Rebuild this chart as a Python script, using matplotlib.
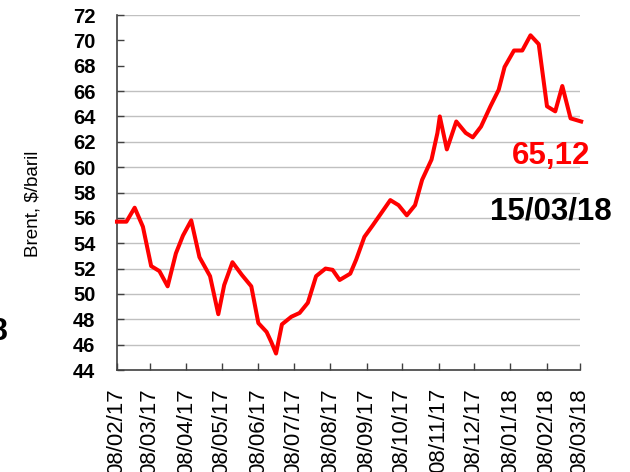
import numpy as np
import pandas as pd
import matplotlib
matplotlib.use('Agg')
import matplotlib.pyplot as plt
import matplotlib.dates as mdates

plt.rcParams['font.family'] = ['Liberation Sans', 'DejaVu Sans']

# Brent, $/baril
dates = ['2017-02-08', '2017-02-16', '2017-02-23', '2017-03-02', '2017-03-09',
         '2017-03-16', '2017-03-23', '2017-03-30', '2017-04-05', '2017-04-12',
         '2017-04-19', '2017-04-28', '2017-05-05', '2017-05-10', '2017-05-17',
         '2017-05-25', '2017-06-02', '2017-06-08', '2017-06-15', '2017-06-19',
         '2017-06-23', '2017-06-28', '2017-07-06', '2017-07-13', '2017-07-20',
         '2017-07-27', '2017-08-04', '2017-08-10', '2017-08-16', '2017-08-25',
         '2017-08-30', '2017-09-06', '2017-09-13', '2017-09-22', '2017-09-28',
         '2017-10-05', '2017-10-12', '2017-10-19', '2017-10-25', '2017-11-02',
         '2017-11-07', '2017-11-09', '2017-11-15', '2017-11-23', '2017-12-01',
         '2017-12-07', '2017-12-14', '2017-12-22', '2017-12-29', '2018-01-03',
         '2018-01-11', '2018-01-18', '2018-01-25', '2018-02-01', '2018-02-08',
         '2018-02-15', '2018-02-21', '2018-02-28', '2018-03-09']
brent = [55.7, 55.7, 56.8, 55.3, 52.2, 51.8, 50.6, 53.2, 54.6, 55.8,
         52.9, 51.4, 48.4, 50.7, 52.5, 51.5, 50.6, 47.7, 47.0, 46.2,
         45.3, 47.6, 48.2, 48.5, 49.3, 51.4, 52.0, 51.9, 51.1, 51.6,
         52.7, 54.5, 55.4, 56.6, 57.4, 57.0, 56.2, 57.0, 59.0, 60.6,
         62.7, 64.0, 61.4, 63.6, 62.7, 62.35, 63.2, 64.8, 66.1, 67.9,
         69.2, 69.2, 70.4, 69.7, 64.8, 64.4, 66.4, 63.85, 63.6]
tick_dates = pd.date_range('2017-02-01', periods=14, freq='MS') + pd.Timedelta(days=7)
y_ticks = np.arange(44, 73, 2)
grid_levels = [46, 48, 50, 52, 54, 56, 58, 60, 62, 64, 66, 72]

x = pd.to_datetime(dates)

fig = plt.figure(figsize=(6.3, 4.72), dpi=100)
ax = fig.add_axes([0.1857, 0.2161, 0.7349, 0.7521])

for g in grid_levels:
    ax.axhline(g, color='#C0C0C0', lw=1, zorder=1)

ax.plot(x, brent, color='#FF0000', lw=2.9, zorder=3, solid_joinstyle='round',
        clip_on=False)

ax.set_ylim(44, 72)
ax.set_yticks(y_ticks)
ax.set_xlim(pd.Timestamp('2017-02-08'), pd.Timestamp('2018-03-08'))
ax.set_xticks(tick_dates)
ax.xaxis.set_major_formatter(mdates.DateFormatter('%d/%m/%y'))

for s in ['top', 'right']:
    ax.spines[s].set_visible(False)
for s in ['left', 'bottom']:
    ax.spines[s].set_color('#404040')
    ax.spines[s].set_linewidth(1.2)

ax.tick_params(axis='y', direction='in', length=5, width=1, color='#404040',
               pad=15.5, labelsize=14.5)
ax.tick_params(axis='x', direction='in', length=5, width=1, color='#404040',
               pad=13, labelsize=16, labelrotation=90)
for lab in ax.get_yticklabels():
    lab.set_fontweight('bold')

fig.text(0.052, 0.568, 'Brent, $/baril', rotation=90, fontsize=13.6,
         ha='center', va='center')

fig.text(0.875, 0.6525, '65,12', color='#FF0000', fontsize=22.5, fontweight='bold',
         ha='center', va='baseline')
fig.text(0.875, 0.534, '15/03/18', color='black', fontsize=22.5, fontweight='bold',
         ha='center', va='baseline')
fig.text(0.012, 0.2797, '18', color='black', fontsize=22.5, fontweight='bold',
         ha='right', va='baseline')

fig.savefig('out.png', dpi=100)
